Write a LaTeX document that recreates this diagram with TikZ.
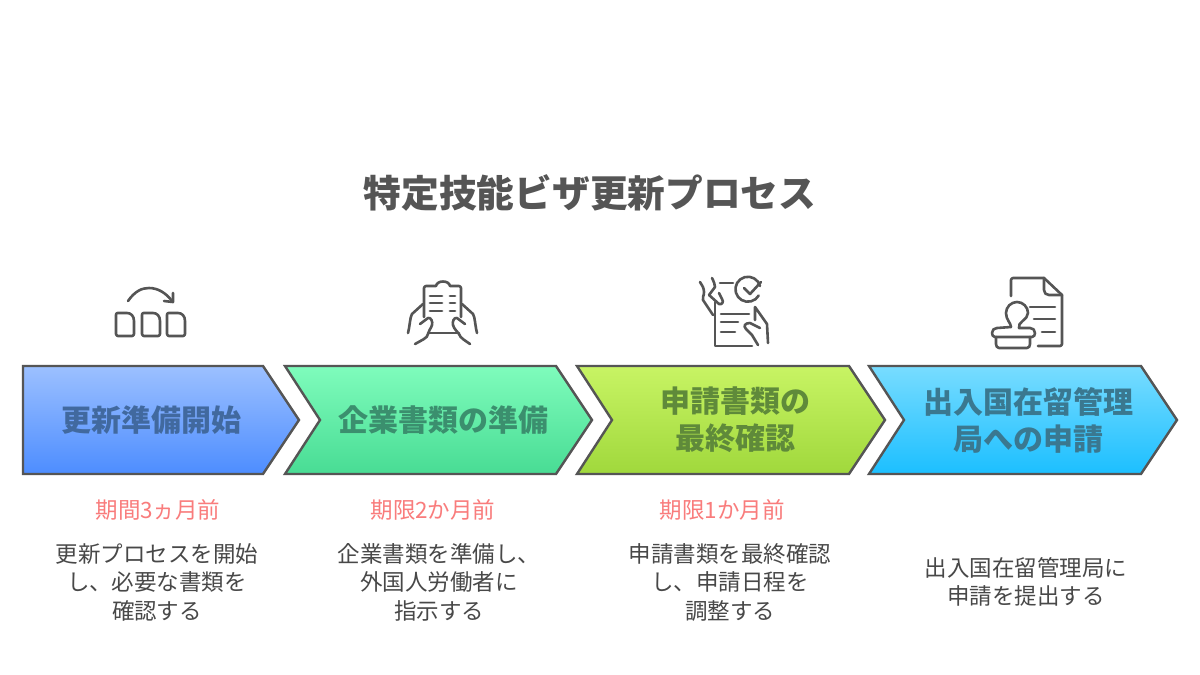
\documentclass[tikz,border=0pt]{standalone}
\usepackage{fontspec}
\setmainfont{Noto Sans CJK JP}
\definecolor{ink}{HTML}{555555}
\definecolor{redtx}{HTML}{F97C7C}
\definecolor{cAa}{HTML}{9CC0FF}\definecolor{cAb}{HTML}{4D8DFF}\definecolor{tA}{HTML}{41699F}
\definecolor{cBa}{HTML}{7FFCBC}\definecolor{cBb}{HTML}{48DC94}\definecolor{tB}{HTML}{3B8F6E}
\definecolor{cCa}{HTML}{C8F464}\definecolor{cCb}{HTML}{A0D83C}\definecolor{tC}{HTML}{5F8A3A}
\definecolor{cDa}{HTML}{78DCFF}\definecolor{cDb}{HTML}{1CBFFF}\definecolor{tD}{HTML}{3A7890}
\tikzset{
 chev/.style={draw=ink,line width=2.4pt,line join=miter,miter limit=10},
 chevtx/.style={font=\bfseries\fontsize{30}{37}\selectfont,align=center,inner sep=0pt},
 title/.style={font=\bfseries\fontsize{37.7}{44}\selectfont,text=ink,inner sep=0pt},
 due/.style={font=\fontsize{22.5}{26}\selectfont,text=redtx,inner sep=0pt},
 body/.style={font=\fontsize{22.5}{28.5}\selectfont,text=ink!85!black,align=center,inner sep=0pt},
 ico/.style={draw=ink,line width=2.6pt,line cap=round,line join=round},
}
\begin{document}
\begin{tikzpicture}[x=1pt,y=-1pt]
\useasboundingbox (0,0) rectangle (1200,675);
\fill[white] (0,0) rectangle (1200,675);
\node[title] (t) at (590,193) {特定技能ビザ更新プロセス};
% chevrons
\path[chev,top color=cAa,bottom color=cAb] (23,366)--(263,366)--(299,420)--(263,474)--(23,474)--cycle;
\path[chev,top color=cBa,bottom color=cBb] (285,366)--(556,366)--(592,420)--(556,474)--(285,474)--(320,420)--cycle;
\path[chev,top color=cCa,bottom color=cCb] (577,366)--(849,366)--(885,420)--(849,474)--(577,474)--(612,420)--cycle;
\path[chev,top color=cDa,bottom color=cDb] (869,366)--(1141,366)--(1177,420)--(1141,474)--(869,474)--(904,420)--cycle;
\node[chevtx,text=tA] (s1) at (151,420) {更新準備開始};
\node[chevtx,text=tB] (s2) at (443,420) {企業書類の準備};
\node[chevtx,text=tC] (s3) at (735,420) {申請書類の\\最終確認};
\node[chevtx,text=tD] (s4) at (1028,420) {出入国在留管理\\局への申請};
\node[due] (d1) at (158,510) {期間3ヵ月前};
\node[due] (d2) at (433,510) {期限2か月前};
\node[due] (d3) at (722,510) {期限1か月前};
\node[body] (b1) at (157,582) {更新プロセスを開始\\し、必要な書類を\\確認する};
\node[body] (b2) at (439,582) {企業書類を準備し、\\外国人労働者に\\指示する};
\node[body] (b3) at (730,582) {申請書類を最終確認\\し、申請日程を\\調整する};
\node[body] (b4) at (1026,582) {出入国在留管理局に\\申請を提出する};
% icon 1
\draw[ico] (128,301) .. controls (135,291) and (142,288) .. (149,288) .. controls (158,288) and (166,293) .. (172,301);
\draw[ico] (173,293)--(173,302)--(164,301);
\foreach \x in {116,142,167}{
 \draw[ico] (\x,315) .. controls (\x,314) and (\x+0.5,313) .. (\x+1.5,313) -- (\x+11,313) .. controls (\x+15,313) and (\x+18,316) .. (\x+18,321) -- (\x+18,334) .. controls (\x+18,335) and (\x+17,336) .. (\x+16,336) -- (\x+2,336) .. controls (\x+1,336) and (\x,335) .. (\x,334) -- cycle;
}
% icon 2
\draw[ico] (424,317)--(424,288) .. controls (424,287) and (425,286) .. (426,286) -- (436,286) .. controls (437,280) and (449,280) .. (450,286) -- (459,286) .. controls (460,286) and (461,287) .. (461,288) -- (461,317);
\draw[ico,line width=2.8pt] (430,296)--(442,296) (450,296)--(455,296) (430,303)--(442,303) (450,303)--(455,303) (430,311)--(442,311) (450,311)--(455,311);
\draw[ico] (428,333)--(459,333);
\draw[ico] (423,304)--(412,314) .. controls (410,317) and (410,325) .. (408,333);
\draw[ico] (420,324)--(428,318) .. controls (431,317) and (433,322) .. (432,325) .. controls (431,329) and (428,331) .. (428,334) .. controls (428,338) and (420,341) .. (415,344);
\draw[ico] (462,304)--(473,314) .. controls (475,317) and (475,325) .. (477,333);
\draw[ico] (465,324)--(457,318) .. controls (454,317) and (452,322) .. (453,325) .. controls (454,329) and (457,331) .. (459,334) .. controls (460,338) and (466,341) .. (470,344);
% icon 3
\draw[ico] (700,282) .. controls (702,285) and (704,288) .. (704,292) .. controls (704,296) and (702,298) .. (703,300) -- (713,315);
\draw[ico] (712,278) .. controls (714,282) and (715,285) .. (715,287) -- (709,295) -- (719,304) .. controls (722,305) and (724,302) .. (722,299) -- (719,293);
\draw[ico] (720,283)--(733,283);
\draw[ico] (760,286) arc[start angle=-15,end angle=-330,radius=12.5];
\draw[ico] (744,288)--(750,294)--(761,282);
\draw[ico] (715,302)--(715,346)--(752,346);
\draw[ico] (721,314)--(749,314) (721,322)--(738,322) (721,332)--(735,332);
\draw[ico] (755,320)--(755,307)--(767,324)--(768,343);
\draw[ico] (760,328)--(750,323) .. controls (745,323) and (743,326) .. (746,329) -- (752,335) -- (758,345);
% icon 4
\draw[ico] (1011,296)--(1011,280) .. controls (1011,279) and (1012,278) .. (1013,278) -- (1044,278) -- (1062,295) -- (1062,344) .. controls (1062,345) and (1061,346) .. (1060,346) -- (1038,346);
\draw[ico] (1044,278)--(1044,290) .. controls (1044,293) and (1046,295) .. (1049,295) -- (1062,295);
\draw[ico] (1030,307)--(1055,307) (1034,319)--(1055,319) (1042,332)--(1055,332);
\draw[ico] (1011,327) .. controls (1011,323) and (1006,320) .. (1006,313) .. controls (1006,307) and (1011,302) .. (1017,302) .. controls (1023,302) and (1028,307) .. (1028,313) .. controls (1028,320) and (1017,322) .. (1019,328);
\draw[ico] (1019,328)--(1030,328) .. controls (1033,328) and (1035,330) .. (1035,333) .. controls (1035,335) and (1034,337) .. (1032,337) -- (995,337) .. controls (993,337) and (992,335) .. (992,333) .. controls (992,330) and (994,328) .. (997,328) -- (1011,327);
\draw[ico] (996,337)--(996,344) .. controls (996,346) and (997,348) .. (999,348) -- (1027,348) .. controls (1029,348) and (1030,346) .. (1030,344) -- (1030,337);
\end{tikzpicture}
\end{document}
